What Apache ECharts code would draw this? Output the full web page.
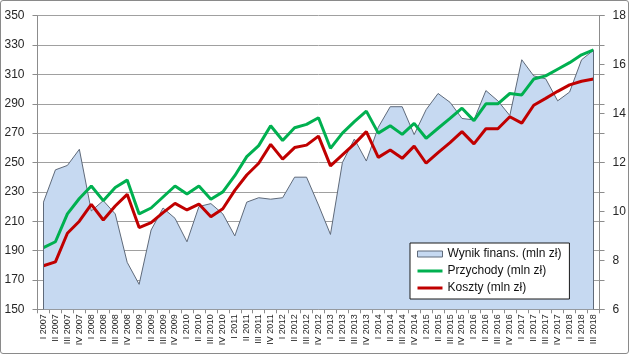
<!DOCTYPE html>
<html>
<head>
<meta charset="utf-8">
<script src="https://cdn.jsdelivr.net/npm/echarts@6/dist/echarts.min.js"></script>
<style>
html,body{margin:0;padding:0;background:#fff;}
#wrap{position:relative;width:629px;height:354px;}
#chart{width:629px;height:354px;}
#frame{position:absolute;left:0;top:0;width:627px;height:352px;border:1px solid #8a8a8a;border-radius:3px;pointer-events:none;}
</style>
</head>
<body>
<div id="wrap"><div id="chart"></div><div id="frame"></div></div>
<script>
const categories = [
  'I 2007','II 2007','III 2007','IV 2007',
  'I 2008','II 2008','III 2008','IV 2008',
  'I 2009','II 2009','III 2009','IV 2009',
  'I 2010','II 2010','III 2010','IV 2010',
  'I 2011','II 2011','III 2011','IV 2011',
  'I 2012','II 2012','III 2012','IV 2012',
  'I 2013','II 2013','III 2013','IV 2013',
  'I 2014','II 2014','III 2014','IV 2014',
  'I 2015','II 2015','III 2015','IV 2015',
  'I 2016','II 2016','III 2016','IV 2016',
  'I 2017','II 2017','III 2017','IV 2017',
  'I 2018','II 2018','III 2018'
];
// Wynik finansowy (left axis)
const wynik = [
  223,245,248,259, 217,224,215,182, 167,204,219,212, 196,220,222,215,
  200,223,226,225, 226,240,240,221, 201,250,266,251, 274,288,288,269,
  286,297,291,280, 279,299,292,282, 320,309,307,292, 298,320,326.5
];
// Przychody (right axis)
const przychody = [
  8.52,8.76,9.90,10.53, 11.04,10.44,10.98,11.28, 9.90,10.14,10.59,11.04,
  10.71,11.04,10.50,10.80, 11.46,12.24,12.69,13.50, 12.90,13.42,13.56,13.83,
  12.58,13.20,13.67,14.10, 13.20,13.50,13.15,13.60, 12.99,13.40,13.80,14.22,
  13.71,14.40,14.40,14.82, 14.76,15.41,15.54,15.81, 16.08,16.40,16.60
];
// Koszty (right axis)
const koszty = [
  7.78,7.94,9.11,9.60, 10.29,9.65,10.22,10.70, 9.34,9.54,9.95,10.33,
  10.06,10.30,9.78,10.11, 10.86,11.49,11.97,12.74, 12.14,12.61,12.71,13.08,
  11.86,12.31,12.76,13.26, 12.21,12.51,12.17,12.67, 11.97,12.40,12.81,13.26,
  12.76,13.38,13.38,13.87, 13.61,14.34,14.62,14.91, 15.17,15.32,15.41
];
const leftTicks = {min:150, max:350, interval:20};
const rightTicks = {min:6, max:18, interval:2};

const FONT = '"Liberation Sans", Arial, sans-serif';
const TXT = '#262626';
const AX = '#8c8c8c';
const names = ['Wynik finans. (mln zł)','Przychody (mln zł)','Koszty (mln zł)'];
const last = categories.length - 1;

const chart = echarts.init(document.getElementById('chart'), null, {renderer:'canvas'});
chart.setOption({
  animation:false,
  backgroundColor:'#ffffff',
  grid:{left:37.5, right:29.5, top:15.7, bottom:44.7, containLabel:false},
  legend:{
    orient:'vertical', left:410, top:243,
    padding:[5,8,5,7], itemGap:5, itemWidth:25, itemHeight:14,
    backgroundColor:'#ffffff', borderColor:'#1a1a1a', borderWidth:1, borderRadius:0,
    textStyle:{fontFamily:FONT, fontSize:12, color:'#111'},
    data:[
      {name:names[0], icon:'path://M0,0H25V6H0Z', itemStyle:{color:'#c6d9f1', borderColor:'#5f6a7a', borderWidth:1}},
      {name:names[1], icon:'path://M0,0H25V3H0Z', itemStyle:{color:'#00b050', borderWidth:0}},
      {name:names[2], icon:'path://M0,0H25V3H0Z', itemStyle:{color:'#c00000', borderWidth:0}}
    ]
  },
  xAxis:{
    type:'category', data:categories, boundaryGap:true,
    axisLine:{show:true, lineStyle:{color:AX, width:1}},
    axisTick:{show:true, length:4, lineStyle:{color:AX}},
    axisLabel:{rotate:90, interval:0, margin:5, fontFamily:FONT, fontSize:9, color:TXT},
    splitLine:{show:false}
  },
  yAxis:[
    {type:'value', position:'left', min:leftTicks.min, max:leftTicks.max, interval:leftTicks.interval,
     axisLine:{show:true, lineStyle:{color:AX}},
     axisTick:{show:true, length:5, lineStyle:{color:AX}},
     axisLabel:{margin:13, fontFamily:FONT, fontSize:12, color:TXT},
     splitLine:{show:true, lineStyle:{color:'#a0a0a0', width:1}}},
    {type:'value', position:'right', min:rightTicks.min, max:rightTicks.max, interval:rightTicks.interval,
     axisLine:{show:true, lineStyle:{color:AX}},
     axisTick:{show:true, length:5, lineStyle:{color:AX}},
     axisLabel:{margin:13, fontFamily:FONT, fontSize:12, color:TXT},
     splitLine:{show:false}},
    {type:'value', position:'right', min:leftTicks.min, max:leftTicks.max, interval:leftTicks.interval,
     axisLine:{show:false}, axisLabel:{show:false},
     axisTick:{show:true, length:5, lineStyle:{color:AX}},
     splitLine:{show:false}}
  ],
  series:[
    {name:names[0], type:'line', yAxisIndex:0, data:wynik, symbol:'none',
     lineStyle:{color:'#5f6a7a', width:1},
     itemStyle:{color:'#c6d9f1', borderColor:'#5f6a7a'},
     areaStyle:{color:'#c6d9f1', opacity:1, origin:'start'},
     z:2,
     markLine:{silent:true, symbol:'none', label:{show:false},
       lineStyle:{color:'#5f6a7a', width:1, type:'solid'},
       data:[
         [{coord:[categories[0], leftTicks.min]},{coord:[categories[0], wynik[0]]}],
         [{coord:[categories[last], leftTicks.min]},{coord:[categories[last], wynik[last]]}]
       ]}
    },
    {name:names[1], type:'line', yAxisIndex:1, data:przychody, symbol:'none', showSymbol:false,
     lineStyle:{color:'#00b050', width:3}, itemStyle:{color:'#00b050'}, z:3},
    {name:names[2], type:'line', yAxisIndex:1, data:koszty, symbol:'none', showSymbol:false,
     lineStyle:{color:'#c00000', width:3}, itemStyle:{color:'#c00000'}, z:4}
  ]
});
</script>
</body>
</html>
